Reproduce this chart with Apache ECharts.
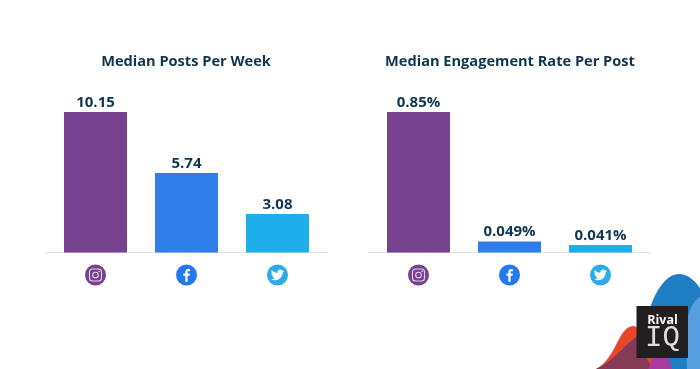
<!DOCTYPE html>
<html><head><meta charset="utf-8">
<style>html,body{margin:0;padding:0;background:#fff}#c{width:700px;height:369px}</style>
<script src="https://cdn.jsdelivr.net/npm/echarts@6/dist/echarts.min.js"></script>
</head><body><div id="c"></div>
<script>
const platforms = ['Instagram', 'Facebook', 'Twitter'];
const platformColors = ['#77428f', '#2e7de9', '#1eaeeb'];
const postsTitle = 'Median Posts Per Week';
const engagementTitle = 'Median Engagement Rate Per Post';
// Printed labels
const postsLabels = ['10.15', '5.74', '3.08'];
const engagementLabels = ['0.85%', '0.049%', '0.041%'];
// Bar lengths as measured in the picture (the original's bars are not strictly to scale with their labels)
const postsBars = [10.15, 5.74, 2.78];
const engagementBars = [0.85, 0.067, 0.046];

const textColor = '#12354f';
const font = '"Open Sans"';

const paths = {
  fb: 'M1.2 7.5 V0.8 H3.4 L3.7 -1.6 H1.2 V-3.1 C1.2 -3.9 1.5 -4.3 2.4 -4.3 H3.8 V-6.5 C3.5 -6.6 2.7 -6.6 1.9 -6.6 C0 -6.6 -1.3 -5.4 -1.3 -3.4 V-1.6 H-3.5 V0.8 H-1.3 V7.5 Z',
  tw: 'M24 4.6c-.9.4-1.8.7-2.8.8 1-.6 1.8-1.6 2.2-2.7-1 .6-2 1-3.1 1.2C19.3 2.8 18 2.2 16.6 2.2c-2.7 0-4.9 2.2-4.9 4.9 0 .4 0 .8.1 1.1C7.7 8 4.1 6 1.7 3c-.4.7-.7 1.6-.7 2.5 0 1.7.9 3.2 2.2 4.1-.8 0-1.6-.2-2.2-.6v.1c0 2.4 1.7 4.4 3.9 4.8-.4.1-.8.2-1.3.2-.3 0-.6 0-.9-.1.6 2 2.4 3.4 4.6 3.4-1.7 1.3-3.8 2.1-6.1 2.1-.4 0-.8 0-1.2-.1 2.2 1.4 4.8 2.2 7.5 2.2 9.1 0 14-7.5 14-14v-.6c1-.7 1.8-1.6 2.5-2.5z',
  blue: 'M637 369 C640 345 645 318 653 300 C660 284 669 274 679 274 C688 274 695 281 700 288 L700 369 Z',
  lightBlue: 'M687 369 C686 345 685 322 690 310 C693 303 696 299 700 297 L700 369 Z',
  red: 'M596 369 C606 364 612 353 618 341 C623 331 628 326 633 326 C638 326 642 331 645 338 L655 369 Z',
  maroon: 'M596 369 C612 362 625 345 637 336 L652 369 Z',
  purple: 'M648 369 C650 364 652 360 655 357 L668 357 L672 369 Z'
};
Object.keys(paths).forEach(k => echarts.graphic.registerShape(k, echarts.graphic.extendPath(paths[k], {})));

const chart = echarts.init(document.getElementById('c'), null, {renderer: 'canvas'});

function series(vals, labels, idx) {
  return {
    type: 'bar', xAxisIndex: idx, yAxisIndex: idx, barWidth: 63, silent: true, animation: false,
    data: vals.map((v, i) => ({value: v, itemStyle: {color: platformColors[i]}})),
    label: {show: true, position: 'top', distance: 2, color: textColor, fontFamily: font, fontWeight: 700, fontSize: 15,
      formatter: p => labels[p.dataIndex]}
  };
}
const bottom = 369 - 252.5;
const titleFont = {color: textColor, fontFamily: font, fontWeight: 700, fontSize: 14.6};
chart.setOption({
  animation: false,
  backgroundColor: '#fff',
  title: [
    {text: postsTitle, left: 181, top: 49, textAlign: 'center', textStyle: titleFont},
    {text: engagementTitle, left: 505, top: 49, textAlign: 'center', textStyle: titleFont}
  ],
  grid: [
    {left: 50, width: 273, top: 112, bottom: bottom},
    {left: 373, width: 273, top: 112, bottom: bottom}
  ],
  xAxis: [0, 1].map(i => ({gridIndex: i, type: 'category', data: platforms, axisTick: {show: false}, axisLabel: {show: false},
    axisLine: {lineStyle: {color: '#dfe1e5', width: 1}}})),
  yAxis: [
    {gridIndex: 0, type: 'value', min: 0, max: 10.15, show: false, splitLine: {show: false}},
    {gridIndex: 1, type: 'value', min: 0, max: 0.85, show: false, splitLine: {show: false}}
  ],
  series: [series(postsBars, postsLabels, 0), series(engagementBars, engagementLabels, 1)]
});

const igGlyph = (x, y) => ([
  {type: 'rect', shape: {x: x - 6, y: y - 6, width: 12, height: 12, r: 3}, style: {fill: 'none', stroke: '#e0d0e8', lineWidth: 1.1}},
  {type: 'circle', shape: {cx: x, cy: y, r: 2.8}, style: {fill: 'none', stroke: '#e0d0e8', lineWidth: 1.1}},
  {type: 'circle', shape: {cx: x + 3.6, cy: y - 3.6, r: 0.8}, style: {fill: '#e0d0e8'}}
]);
const fbGlyph = (x, y) => ([
  {type: 'fb', x: x, y: y, scaleX: 0.9, scaleY: 0.9, style: {fill: '#fff'}}
]);
const twGlyph = (x, y) => ([
  {type: 'tw', x: x - 6.6, y: y - 6.6, scaleX: 0.55, scaleY: 0.55, style: {fill: '#fff'}}
]);
const glyphs = [igGlyph, fbGlyph, twGlyph];
const iconFills = ['#77428f', '#2479ee', '#2cabe8'];

function icons(gridIndex) {
  const out = [];
  platforms.forEach((p, i) => {
    const x = chart.convertToPixel({xAxisIndex: gridIndex}, p);
    const y = 275;
    out.push({type: 'circle', shape: {cx: x, cy: y, r: 10.5}, style: {fill: iconFills[i]}, z: 5});
    glyphs[i](x, y).forEach(g => { g.z = 6; out.push(g); });
  });
  return out;
}
const rule = (x1, x2) => ({type: 'line', shape: {x1, y1: 252.5, x2, y2: 252.5}, style: {stroke: '#dfe1e5', lineWidth: 1}, z: 0});
const shapes = [
  {type: 'blue', style: {fill: '#1f7dc4'}, z: 1},
  {type: 'lightBlue', style: {fill: '#559fe0'}, z: 2},
  {type: 'red', style: {fill: '#e8462b'}, z: 1},
  {type: 'maroon', style: {fill: '#853a55'}, z: 2},
  {type: 'purple', style: {fill: '#a93aa0'}, z: 2},
  {type: 'rect', shape: {x: 636.5, y: 306, width: 51.5, height: 52}, style: {fill: '#231f20'}, z: 3},
  {type: 'text', x: 662.5, y: 320, style: {text: 'Rival', fill: '#fff', font: '700 12.5px "Open Sans"', align: 'center', verticalAlign: 'middle'}, z: 4},
  {type: 'text', x: 662.5, y: 338, style: {text: 'IQ', fill: '#ddd', font: '400 29px "Liberation Mono"', align: 'center', verticalAlign: 'middle'}, z: 4}
];
chart.setOption({graphic: [rule(45, 328), rule(368, 651), ...shapes, ...icons(0), ...icons(1)]});
</script></body></html>
